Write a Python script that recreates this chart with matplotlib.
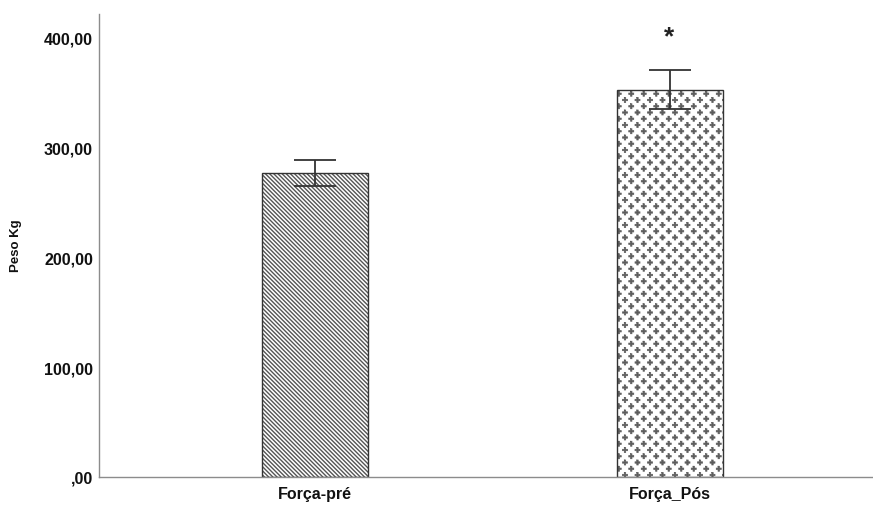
import numpy as np
import matplotlib
matplotlib.use("Agg")
import matplotlib.pyplot as plt
import matplotlib.hatch as mhatch
from matplotlib.path import Path

# ---- data ----
categories = ["Força-pré", "Força_Pós"]
means = [276.4, 351.8]
err_low = [264.5, 334.5]
err_high = [288.2, 370.0]
yticks = [0, 100, 200, 300, 400]
ytick_labels = [",00", "100,00", "200,00", "300,00", "400,00"]
ylabel = "Peso Kg"
hatches = ["\\" * 8, "*"]
signif = ["", "*"]


# custom checkerboard "plus" hatch replacing stars
class Pluses(mhatch.HatchPatternBase):
    rows = 16
    cols = 8
    half = 0.025   # half arm length
    thick = 0.007  # half arm thickness

    def __init__(self, hatch, density):
        self.active = "*" in hatch
        a, t = self.half, self.thick
        self.shape = np.array([[-t, a], [t, a], [t, t], [a, t], [a, -t], [t, -t],
                               [t, -a], [-t, -a], [-t, -t], [-a, -t], [-a, t],
                               [-t, t], [-t, a]])
        if self.active:
            n_even = (self.rows // 2 + 1) * (self.cols + 1)
            n_odd = (self.rows // 2) * self.cols
            self.num_vertices = (n_even + n_odd) * len(self.shape)
        else:
            self.num_vertices = 0

    def set_vertices_and_codes(self, vertices, codes):
        vparts, cparts = [], []
        scodes = np.full(len(self.shape), Path.LINETO, dtype=Path.code_type)
        scodes[0] = Path.MOVETO
        for r in range(self.rows + 1):
            if r % 2 == 0:
                xs = np.linspace(0, 1, self.cols + 1)
            else:
                xs = np.linspace(0.5 / self.cols, 1 - 0.5 / self.cols, self.cols)
            for cx in xs:
                vparts.append(self.shape + [cx, r / self.rows])
                cparts.append(scodes)
        vertices[:] = np.concatenate(vparts)
        codes[:] = np.concatenate(cparts)


mhatch._hatch_types = [t for t in mhatch._hatch_types if t is not mhatch.Stars] + [Pluses]

plt.rcParams["font.family"] = ["Liberation Sans", "DejaVu Sans"]

fig = plt.figure(figsize=(8.73, 5.06), dpi=100)
ax = fig.add_axes([99 / 873, 28 / 506, 1 - 99 / 873, (478 - 15) / 506])

x = np.arange(len(categories))
hatch_lw = [1.0, 0.5]
hatch_col = ["#555555", "#5c5c5c"]
for i in range(len(categories)):
    plt.rcParams["hatch.linewidth"] = hatch_lw[i]
    ax.bar(x[i], means[i], width=0.30, facecolor="white", edgecolor=hatch_col[i],
           hatch=hatches[i], linewidth=0, zorder=2)
    ax.bar(x[i], means[i], width=0.30, facecolor="none", edgecolor="#333333",
           linewidth=1.0, zorder=2.5)

yerr = [np.array(means) - np.array(err_low), np.array(err_high) - np.array(means)]
ax.errorbar(x, means, yerr=yerr, fmt="none", ecolor="#333333", elinewidth=1.3,
            capsize=14.8, capthick=1.3, zorder=3)

for i, s in enumerate(signif):
    if s:
        ax.text(x[i] - 0.003, err_high[i] + 31, s, ha="center", va="center",
                fontsize=19, fontweight="bold", color="#222222")

ax.set_xlim(-0.6085, 1.572)
ax.set_ylim(0, 421)
ax.set_yticks(yticks)
ax.set_yticklabels(ytick_labels)
ax.set_xticks(x)
ax.set_xticklabels(categories)
ax.tick_params(axis="y", length=0, pad=4.3, labelsize=11.5, labelcolor="#111111")
ax.tick_params(axis="x", length=0, pad=6.5, labelsize=11.5, labelcolor="#111111")
for lab in ax.get_xticklabels() + ax.get_yticklabels():
    lab.set_fontweight("bold")

ax.set_ylabel(ylabel, fontsize=9.5, fontweight="bold", color="#111111")
ax.yaxis.set_label_coords(-(99 - 22) / 774, (478 - 246) / 463)

for side in ["top", "right"]:
    ax.spines[side].set_visible(False)
for side in ["left", "bottom"]:
    ax.spines[side].set_color("#8c8c8c")
    ax.spines[side].set_linewidth(1.0)

fig.savefig("out.png", dpi=100)
